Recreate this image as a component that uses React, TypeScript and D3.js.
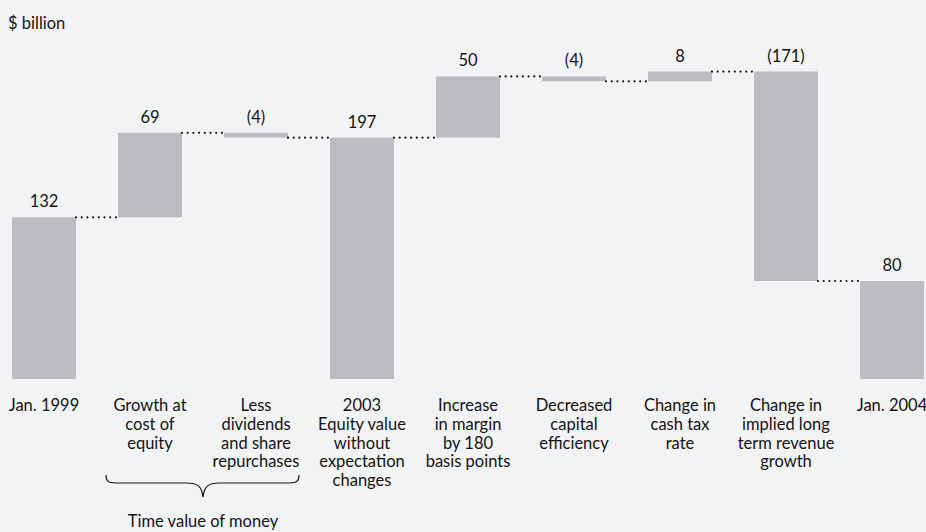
import React from "react";
import * as d3 from "d3";

const categories: string[][] = [
  ["Jan. 1999"],
  ["Growth at", "cost of", "equity"],
  ["Less", "dividends", "and share", "repurchases"],
  ["2003", "Equity value", "without", "expectation", "changes"],
  ["Increase", "in margin", "by 180", "basis points"],
  ["Decreased", "capital", "efficiency"],
  ["Change in", "cash tax", "rate"],
  ["Change in", "implied long", "term revenue", "growth"],
  ["Jan. 2004"],
];
const values: number[] = [132, 69, -4, 197, 50, -4, 8, -171, 80];
const isTotal: boolean[] = [true, false, false, true, false, false, false, false, true];
const valueLabels: string[] = ["132", "69", "(4)", "197", "50", "(4)", "8", "(171)", "80"];
const unitLabel = "$ billion";
const groupLabel = "Time value of money";
const groupRange: number[] = [1, 2];

const W = 926;
const H = 532;
const FONT = "Lato, 'Open Sans', sans-serif";
const FS = 16.5;
const TEXT = "#141414";
const BAR = "#bcbdc1";
const BG = "#f2f3f5";

export default function App() {
  const keys = categories.map((_, i) => String(i));
  const x = d3.scaleBand<string>().domain(keys).range([12, 924]).paddingInner(42 / 106).paddingOuter(0);
  const y = d3.scaleLinear().domain([0, 260]).range([379, 60.5]);
  const bw = x.bandwidth();

  let run = 0;
  const bars = values.map((v, i) => {
    let lo: number, hi: number, end: number;
    if (isTotal[i]) {
      lo = 0; hi = v; end = v;
    } else {
      const s = run; end = run + v;
      lo = Math.min(s, end); hi = Math.max(s, end);
    }
    run = end;
    return { i, lo, hi, end };
  });

  const bx = (i: number) => x(String(i)) as number;
  const gL = bx(groupRange[0]);
  const gR = bx(groupRange[1]) + bw;
  const gC = (bx(groupRange[0]) + bx(groupRange[1]) + bw) / 2;
  const left = gL - 12;
  const right = gR + 11;
  const yt = 475, ym = 483, ytip = 497;
  const brace = `M${left},${yt} C${left},${ym} ${left + 4},${ym} ${left + 14},${ym} L${gC - 16},${ym} C${gC - 6},${ym} ${gC - 1},${ym + 3} ${gC},${ytip} C${gC + 1},${ym + 3} ${gC + 6},${ym} ${gC + 16},${ym} L${right - 14},${ym} C${right - 4},${ym} ${right},${ym} ${right},${yt}`;

  return (
    <div style={{ position: "fixed", left: 0, top: 0, width: W, height: H, background: BG }}>
      <svg width={W} height={H} style={{ display: "block" }} fontFamily={FONT}>
        <rect width={W} height={H} fill={BG} />
        <text x={8} y={29} fontSize={FS} fill={TEXT}>{unitLabel}</text>
        {bars.map((b) => (
          <rect key={"b" + b.i} x={bx(b.i)} y={y(b.hi)} width={bw} height={Math.max(1, y(b.lo) - y(b.hi))} fill={BAR} />
        ))}
        {bars.slice(0, -1).map((b) => (
          <line
            key={"c" + b.i}
            x1={bx(b.i) + bw}
            x2={bx(b.i + 1)}
            y1={y(b.end)}
            y2={y(b.end)}
            stroke={TEXT}
            strokeWidth={2.2}
            strokeLinecap="round"
            strokeDasharray="0 5.7"
          />
        ))}
        {bars.map((b) => (
          <text key={"v" + b.i} x={bx(b.i) + bw / 2} y={y(b.hi) - 10} textAnchor="middle" fontSize={FS} fill={TEXT}>
            {valueLabels[b.i]}
          </text>
        ))}
        {categories.map((lines, i) => (
          <text key={"l" + i} textAnchor="middle" fontSize={FS} fill={TEXT}>
            {lines.map((ln, j) => (
              <tspan key={j} x={bx(i) + bw / 2} y={411 + j * 18.8}>{ln}</tspan>
            ))}
          </text>
        ))}
        <path d={brace} fill="none" stroke={TEXT} strokeWidth={1.2} />
        <text x={gC} y={527} textAnchor="middle" fontSize={FS} fill={TEXT}>{groupLabel}</text>
      </svg>
    </div>
  );
}
